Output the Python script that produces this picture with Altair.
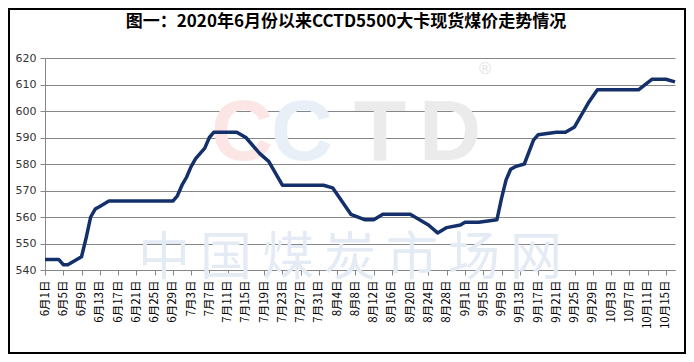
import altair as alt
import pandas as pd

# ---- data ----
dates = [
    "2020-06-01", "2020-06-04", "2020-06-05", "2020-06-06", "2020-06-09", "2020-06-10",
    "2020-06-11", "2020-06-12", "2020-06-13", "2020-06-15", "2020-06-29", "2020-06-30",
    "2020-07-01", "2020-07-02", "2020-07-03", "2020-07-04", "2020-07-06", "2020-07-07",
    "2020-07-08", "2020-07-13", "2020-07-15", "2020-07-17", "2020-07-18", "2020-07-20",
    "2020-07-23", "2020-08-01", "2020-08-03", "2020-08-05", "2020-08-07", "2020-08-10",
    "2020-08-12", "2020-08-14", "2020-08-20", "2020-08-24", "2020-08-26", "2020-08-28",
    "2020-08-31", "2020-09-01", "2020-09-04", "2020-09-08", "2020-09-09", "2020-09-10",
    "2020-09-11", "2020-09-12", "2020-09-14", "2020-09-16", "2020-09-17", "2020-09-21",
    "2020-09-23", "2020-09-25", "2020-09-26", "2020-09-27", "2020-09-28", "2020-09-30",
    "2020-10-09", "2020-10-12", "2020-10-15", "2020-10-17",
]
prices = [
    544, 544, 542, 542, 545, 552,
    560, 563, 564, 566, 566, 568,
    572, 575, 579, 582, 586, 590,
    592, 592, 590, 586, 584, 581,
    572, 572, 571, 566, 561, 559,
    559, 561, 561, 557, 554, 556,
    557, 558, 558, 559, 567, 574,
    578, 579, 580, 589, 591, 592,
    592, 594, 597, 600, 603, 608,
    608, 612, 612, 611,
]
tick_labels = [
    "6月1日", "6月5日", "6月9日", "6月13日", "6月17日", "6月21日", "6月25日", "6月29日",
    "7月3日", "7月7日", "7月11日", "7月15日", "7月19日", "7月23日", "7月27日", "7月31日",
    "8月4日", "8月8日", "8月12日", "8月16日", "8月20日", "8月24日", "8月28日",
    "9月1日", "9月5日", "9月9日", "9月13日", "9月17日", "9月21日", "9月25日", "9月29日",
    "10月3日", "10月7日", "10月11日", "10月15日",
]
y_ticks = [540, 550, 560, 570, 580, 590, 600, 610, 620]
title_text = "图一：2020年6月份以来CCTD5500大卡现货煤价走势情况"
watermark_cn = list("中国煤炭市场网")

start = pd.Timestamp("2020-06-01")
df = pd.DataFrame({"date": pd.to_datetime(dates), "price": prices})
df["d"] = (df["date"] - start).dt.days

W, H = 630, 212
PL, PT, PR, PB = 37, 50, 11, 84
label_js = "[" + ",".join("'" + t + "'" for t in tick_labels) + "]"

x_enc = alt.X(
    "d:Q",
    scale=alt.Scale(domain=[0, 138], nice=False, zero=False),
    axis=alt.Axis(
        values=[i * 4 for i in range(len(tick_labels))],
        labelExpr=label_js + "[round(datum.value / 4)]",
        title=None, grid=False, domainColor="#878787", tickColor="#878787",
        tickSize=5, labelAngle=270, labelPadding=5, labelFontSize=11.5,
        labelFont="Noto Sans CJK SC", labelColor="#000000", labelOverlap=False,
    ),
)
y_enc = alt.Y(
    "price:Q",
    scale=alt.Scale(domain=[540, 620], nice=False, zero=False),
    axis=alt.Axis(
        values=y_ticks, title=None, grid=True, gridColor="#878787", gridWidth=1,
        domainColor="#878787", tickColor="#878787", tickSize=5, labelPadding=4,
        labelFontSize=11, labelFont="DejaVu Sans", labelColor="#333333",
    ),
)

one = pd.DataFrame({"k": [0]})
layers = []

# faint watermark letters
logo = [("C", 242, "#fbe5e5"), ("C", 302, "#e9eff7"), ("T", 380, "#ebebeb"), ("D", 450, "#ebebeb")]
for ch, cx, col in logo:
    layers.append(
        alt.Chart(one).mark_text(text=ch, fontSize=86, fontWeight="bold", font="Liberation Sans",
                                 color=col, baseline="alphabetic", align="center")
        .encode(x=alt.value(cx - 45), y=alt.value(160 - 58))
    )
layers.append(
    alt.Chart(one).mark_text(text="®", fontSize=16, font="DejaVu Sans", color="#e6e6e6")
    .encode(x=alt.value(485 - 45), y=alt.value(69 - 58))
)
for i, ch in enumerate(watermark_cn):
    layers.append(
        alt.Chart(one).mark_text(text=ch, fontSize=52, font="Noto Sans CJK SC", fontWeight="normal",
                                 color="#e4ebf4", baseline="middle", align="center")
        .encode(x=alt.value(164 + 62 * i - 45), y=alt.value(259 - 58))
    )

line = alt.Chart(df).mark_line(color="#14306b", strokeWidth=3.5, strokeJoin="round").encode(
    x=x_enc, y=y_enc
)
layers.append(line)

title = alt.Chart(one).mark_text(
    text=title_text, fontSize=17, fontWeight="bold", font="Noto Sans CJK SC",
    color="#000000", align="center", baseline="middle",
).encode(x=alt.value(346 - 45), y=alt.value(22 - 58))
layers.append(title)

border = alt.Chart(one).mark_rect(fillOpacity=0, stroke="#000000", strokeWidth=2).encode(
    x=alt.value(-PL + 1), x2=alt.value(W + PR - 1),
    y=alt.value(-PT + 1), y2=alt.value(H + PB - 1),
)
layers.append(border)

chart = alt.layer(*layers).properties(
    width=W, height=H,
    padding={"left": PL, "top": PT, "right": PR, "bottom": PB},
    autosize=alt.AutoSizeParams(type="none"),
    background="#ffffff",
).configure_view(stroke=None)

chart.save("out.html", embed_options={"renderer": "svg", "actions": False})
